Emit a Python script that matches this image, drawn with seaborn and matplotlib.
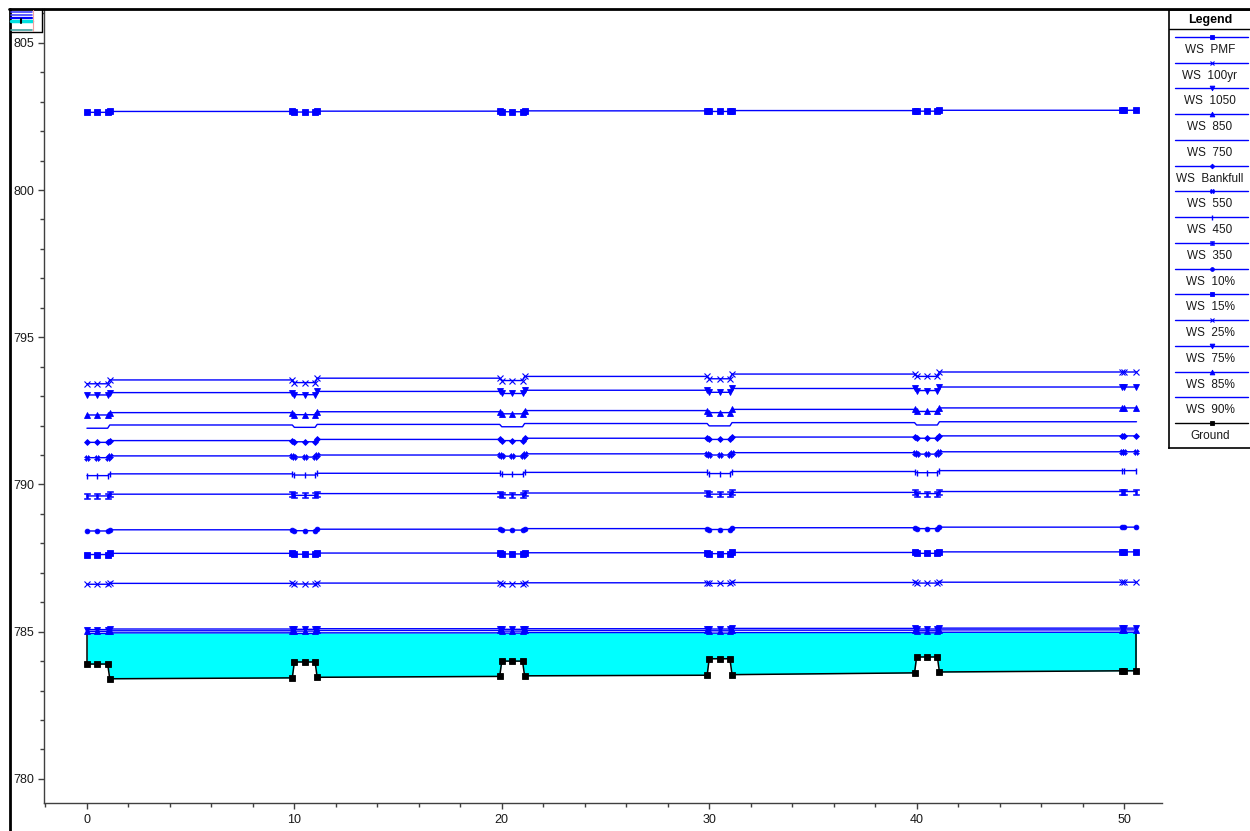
import matplotlib
matplotlib.use("Agg")
import matplotlib.pyplot as plt
import seaborn as sns
import pandas as pd
from matplotlib.path import Path
from matplotlib.lines import Line2D
from matplotlib.patches import Rectangle
from matplotlib.ticker import MultipleLocator

sns.set_style("ticks")
plt.rcParams['font.family'] = ['Liberation Sans', 'DejaVu Sans']

# ---------------------------------------------------------------- data
# culvert crossings start at these stations; each culvert spans 1.0 unit
culvert_start = [0, 10, 20, 30, 40]
end_stations = [49.9, 50.0, 50.6]

# computation nodes shared by ground and water surfaces
node_station = [0, 0.5, 1.0, 1.1,
                 9.9, 10, 10.5, 11.0, 11.1,
                 19.9, 20, 20.5, 21.0, 21.1,
                 29.9, 30, 30.5, 31.0, 31.1,
                 39.9, 40, 40.5, 41.0, 41.1,
                 49.9, 50.0, 50.6]

ground_elev = [783.90, 783.90, 783.90, 783.40,
               783.43, 783.97, 783.97, 783.97, 783.45,
               783.48, 784.00, 784.00, 784.00, 783.50,
               783.52, 784.08, 784.08, 784.08, 783.54,
               783.60, 784.14, 784.14, 784.14, 783.63,
               783.67, 783.67, 783.67]

profile_names = ["WS  PMF", "WS  100yr", "WS  1050", "WS  850", "WS  750",
                 "WS  Bankfull", "WS  550", "WS  450", "WS  350", "WS  10%",
                 "WS  15%", "WS  25%", "WS  75%", "WS  85%", "WS  90%"]

# water surface in each reach (downstream of culvert i) and through culvert i
ws_pmf_reach = [802.67, 802.68, 802.69, 802.70, 802.71]
ws_pmf_culv = [802.64, 802.65, 802.66, 802.67, 802.68]
ws_100yr_reach = [793.55, 793.61, 793.67, 793.75, 793.82]
ws_100yr_culv = [793.42, 793.46, 793.53, 793.59, 793.67]
ws_1050_reach = [793.12, 793.16, 793.20, 793.26, 793.31]
ws_1050_culv = [793.04, 793.05, 793.09, 793.13, 793.19]
ws_850_reach = [792.44, 792.47, 792.51, 792.55, 792.60]
ws_850_culv = [792.36, 792.37, 792.40, 792.44, 792.48]
ws_750_reach = [792.02, 792.04, 792.07, 792.10, 792.13]
ws_750_culv = [791.91, 791.94, 791.96, 791.99, 792.02]
ws_bankfull_reach = [791.49, 791.53, 791.57, 791.61, 791.65]
ws_bankfull_culv = [791.43, 791.45, 791.49, 791.53, 791.57]
ws_550_reach = [790.97, 791.00, 791.04, 791.08, 791.11]
ws_550_culv = [790.91, 790.93, 790.96, 791.00, 791.03]
ws_450_reach = [790.36, 790.38, 790.41, 790.44, 790.47]
ws_450_culv = [790.30, 790.32, 790.34, 790.37, 790.40]
ws_350_reach = [789.67, 789.69, 789.71, 789.73, 789.76]
ws_350_culv = [789.61, 789.63, 789.65, 789.67, 789.69]
ws_10_reach = [788.46, 788.48, 788.50, 788.53, 788.55]
ws_10_culv = [788.42, 788.43, 788.45, 788.47, 788.50]
ws_15_reach = [787.66, 787.67, 787.68, 787.69, 787.71]
ws_15_culv = [787.62, 787.63, 787.64, 787.65, 787.66]
ws_25_reach = [786.64, 786.65, 786.66, 786.67, 786.68]
ws_25_culv = [786.61, 786.62, 786.63, 786.64, 786.65]
ws_75_reach = [785.09, 785.10, 785.10, 785.11, 785.12]
ws_75_culv = [785.07, 785.08, 785.08, 785.09, 785.09]
ws_85_reach = [785.03, 785.04, 785.04, 785.05, 785.06]
ws_85_culv = [785.01, 785.02, 785.02, 785.03, 785.03]
ws_90_reach = [784.96, 784.96, 784.97, 784.97, 784.98]
ws_90_culv = [784.94, 784.94, 784.95, 784.95, 784.96]

profile_reach = [ws_pmf_reach, ws_100yr_reach, ws_1050_reach, ws_850_reach,
                 ws_750_reach, ws_bankfull_reach, ws_550_reach, ws_450_reach,
                 ws_350_reach, ws_10_reach, ws_15_reach, ws_25_reach,
                 ws_75_reach, ws_85_reach, ws_90_reach]
profile_culv = [ws_pmf_culv, ws_100yr_culv, ws_1050_culv, ws_850_culv,
                ws_750_culv, ws_bankfull_culv, ws_550_culv, ws_450_culv,
                ws_350_culv, ws_10_culv, ws_15_culv, ws_25_culv,
                ws_75_culv, ws_85_culv, ws_90_culv]

# ---------------------------------------------------------------- styling
ibeam = Path([(-1, 1), (1, 1), (1, 0.55), (0.35, 0.55), (0.35, -0.55),
              (1, -0.55), (1, -1), (-1, -1), (-1, -0.55), (-0.35, -0.55),
              (-0.35, 0.55), (-1, 0.55), (-1, 1)], closed=True)

profile_markers = [("s", 4.3, 0.6), ("x", 4.0, 0.8), ("v", 4.3, 0.6), ("^", 4.3, 0.6),
                   (None, 0, 0), ("D", 3.0, 0.6), ("X", 4.0, 0.4), ("|", 4.5, 1.0),
                   (ibeam, 4.3, 0.4), ("o", 3.4, 0.6), ("s", 4.3, 0.6),
                   ("x", 4.0, 0.8), ("v", 4.3, 0.6), ("^", 4.3, 0.6), (None, 0, 0)]
WS_COLOR = "#0000ff"
W, H = 1250, 831


def ws_series(reach, culv):
    """Water surface elevations at every computation node."""
    elev = []
    for i in range(len(culvert_start)):
        if i > 0:
            elev.append(reach[i - 1])
        elev += [culv[i]] * 3
        elev.append(reach[i])
    elev += [reach[-1]] * len(end_stations)
    return elev


def fx(x):
    return x / W


def fy(y):
    return 1 - y / H


fig = plt.figure(figsize=(W / 100, H / 100), dpi=100)
ax = fig.add_axes([fx(44), fy(803), (1162 - 44) / W, (803 - 9) / H])

# water fill between the ground and the lowest profile
ws90 = ws_series(ws_90_reach, ws_90_culv)
ax.fill_between(node_station, ground_elev, ws90, color="#00ffff", lw=0, zorder=1)
ax.plot([node_station[0]] * 2, [ground_elev[0], ws90[0]], color="black", lw=1.1, zorder=2)
ax.plot([node_station[-1]] * 2, [ground_elev[-1], ws90[-1]], color="black", lw=1.1, zorder=2)

for name, reach, culv, (mk, ms, mew) in zip(profile_names, profile_reach, profile_culv,
                                            profile_markers):
    df = pd.DataFrame({"station": node_station, "elev": ws_series(reach, culv)})
    kw = dict(color=WS_COLOR, lw=1.0, zorder=3)
    if mk is not None:
        kw.update(marker=mk, markersize=ms, markeredgecolor=WS_COLOR,
                  markerfacecolor=WS_COLOR, markeredgewidth=mew)
    sns.lineplot(data=df, x="station", y="elev", ax=ax, estimator=None,
                 sort=False, **kw)

gdf = pd.DataFrame({"station": node_station, "elev": ground_elev})
sns.lineplot(data=gdf, x="station", y="elev", ax=ax, estimator=None, sort=False,
             color="black", lw=1.1, marker="s", markersize=4.3,
             markeredgecolor="black", markerfacecolor="black",
             markeredgewidth=0.6, zorder=4)

ax.set_xlim(-2.07, 51.83)
ax.set_ylim(779.18, 806.15)
ax.set_xlabel("")
ax.set_ylabel("")
ax.xaxis.set_major_locator(MultipleLocator(10))
ax.xaxis.set_minor_locator(MultipleLocator(2))
ax.yaxis.set_major_locator(MultipleLocator(5))
ax.yaxis.set_minor_locator(MultipleLocator(1))
ax.tick_params(axis="both", which="major", length=4, width=1, color="#404040",
               labelsize=9, labelcolor="#1a1a1a", direction="out")
ax.tick_params(axis="x", which="major", pad=4)
ax.tick_params(axis="y", which="major", pad=3)
ax.tick_params(axis="both", which="minor", length=3, width=1, color="#404040",
               direction="out")
for side in ("left", "bottom"):
    ax.spines[side].set_color("#404040")
    ax.spines[side].set_linewidth(1)
ax.spines["right"].set_visible(False)
ax.spines["top"].set_visible(False)

# outer window frame
fig.add_artist(Line2D([fx(9), fx(1250)], [fy(9), fy(9)], color="black", lw=2,
                      transform=fig.transFigure))
fig.add_artist(Line2D([fx(9.5), fx(9.5)], [fy(9), fy(831)], color="black", lw=2,
                      transform=fig.transFigure))

# small toolbar icon in the corner
fig.add_artist(Rectangle((fx(10), fy(32)), 32 / W, 23 / H, facecolor="white",
                         edgecolor="none", transform=fig.transFigure))
fig.add_artist(Line2D([fx(42), fx(42)], [fy(9), fy(32)], color="black", lw=1,
                      transform=fig.transFigure))
fig.add_artist(Line2D([fx(10), fx(42)], [fy(32), fy(32)], color="black", lw=1,
                      transform=fig.transFigure))
for yy, col, lw in [(12, "#4040ff", 1.2), (14.5, "#4040ff", 1.2), (17.5, "#0000ff", 1.6),
                    (20.5, "#00e0e0", 2.5), (29.5, "#40a0a0", 1.2)]:
    fig.add_artist(Line2D([fx(11), fx(32)], [fy(yy), fy(yy)], color=col, lw=lw,
                          transform=fig.transFigure))
fig.add_artist(Line2D([fx(21), fx(21)], [fy(19), fy(22.5)], color="black", lw=1.5,
                      transform=fig.transFigure))
fig.add_artist(Line2D([fx(32.5), fx(32.5)], [fy(10), fy(31)], color="#f4a0a0", lw=0.8,
                      transform=fig.transFigure))

# legend panel
lax = fig.add_axes([fx(1169), fy(448), (1250 - 1169) / W, (448 - 10) / H])
lax.set_xlim(1169, 1250)
lax.set_ylim(448, 10)
lax.set_xticks([])
lax.set_yticks([])
for side in ("left", "top", "bottom"):
    lax.spines[side].set_color("black")
    lax.spines[side].set_linewidth(1.2)
lax.spines["right"].set_visible(False)
lax.text(1210, 20, "Legend", ha="center", va="center", fontsize=9,
         fontweight="bold", color="black")
lax.plot([1169, 1250], [29, 29], color="black", lw=1)

entries = list(zip(profile_names, profile_markers, [WS_COLOR] * len(profile_names)))
entries.append(("Ground", ("s", 4.3, 0.6), "black"))
for i, (name, (mk, ms, mew), col) in enumerate(entries):
    ly = 37 + i * 25.75
    lax.plot([1175, 1248], [ly, ly], color=col, lw=1.0)
    if mk is not None:
        lax.plot([1212], [ly], marker=mk, markersize=ms * 0.8, color=col,
                 markeredgecolor=col, markeredgewidth=mew, ls="none")
    lax.text(1210, ly + 13, name, ha="center", va="center", fontsize=8.5,
             color="#1a1a1a")

fig.savefig("out.png", dpi=100)
